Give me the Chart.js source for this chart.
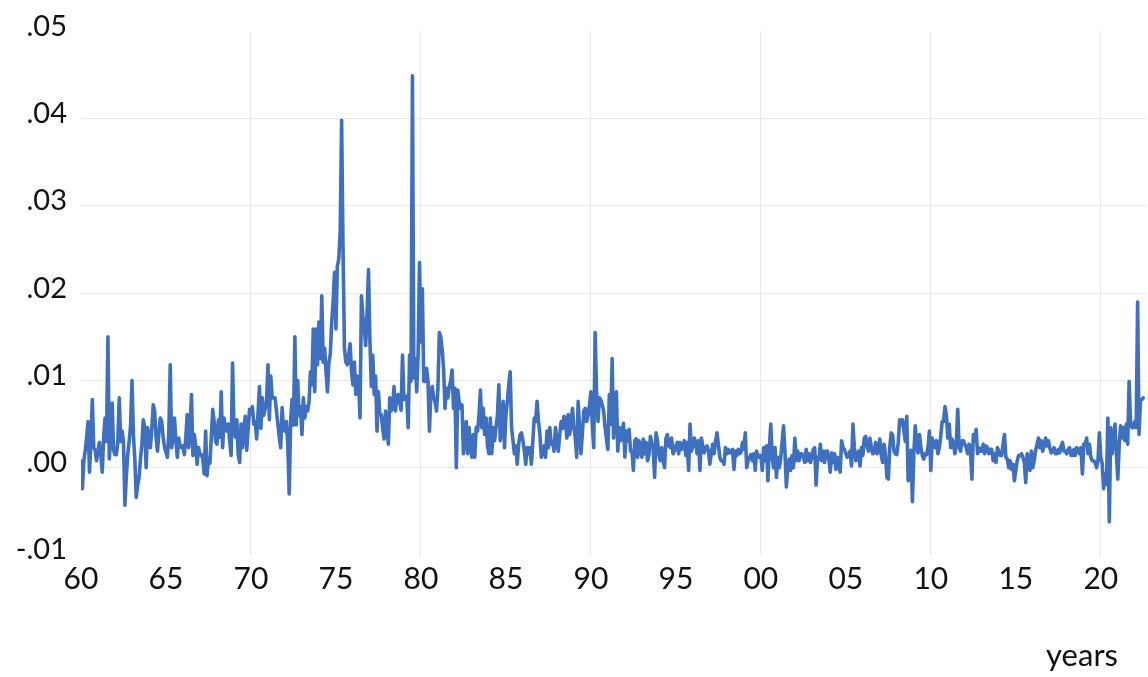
<!DOCTYPE html>
<html>
<head>
<meta charset="utf-8">
<script src="https://cdn.jsdelivr.net/npm/chart.js@4.4.0/dist/chart.umd.min.js"></script>
<style>
    html, body { margin: 0; padding: 0; background: #fff; }
</style>
</head>
<body>
<canvas id="chart" width="1148" height="677"></canvas>
<script>
// Monthly values in thousandths (per mille), starting January 1960
const v1960s = [
    0.8, -2.4, 0.8, 2.0, 3.5, 5.3, -0.5, 3.0, 7.8, 2.3, 2.0, 0.8,
    2.0, 2.9, 1.5, -0.5, 3.5, 5.7, 3.0, 15.0, 1.0, 4.0, 7.4, 2.0,
    1.5, 1.5, 3.0, 8.0, 3.0, 4.2, 3.0, -4.3, -1.0, 1.5, 3.0, 4.8,
    10.0, 3.8, 1.0, -3.4, -2.0, -1.1, 1.0, 2.7, 5.5, 4.6, 0.0, 4.6,
    3.5, 2.3, 4.5, 7.2, 6.5, 3.5, 1.9, 4.0, 5.7, 5.3, 3.5, 2.3,
    1.8, 1.2, 4.0, 11.8, 2.3, 3.5, 5.7, 3.1, 1.2, 3.4, 2.5, 2.3,
    2.5, 1.5, 3.5, 6.1, 2.3, 4.5, 8.4, 1.4, 3.8, 2.5, 0.4, 2.3,
    1.5, 1.5, 1.0, -0.7, 4.2, -0.9, 1.0, 0.5, 3.5, 6.7, 5.3, 3.0,
    2.7, 5.5, 3.5, 8.7, 2.3, 5.7, 4.5, 4.2, 5.0, 3.0, 1.4, 12.0,
    4.2, 3.5, 5.5, 1.5, 0.6, 5.0, 2.3, 4.5, 5.9, 2.0, 4.5, 6.7
];
const v1970s = [
    6.2, 7.0, 5.0, 5.3, 3.3, 6.3, 9.3, 4.5, 8.0, 6.0, 6.7, 7.6,
    11.8, 5.5, 10.5, 8.0, 8.0, 8.0, 6.5, 5.0, 3.5, 2.3, 6.9, 4.5,
    4.2, 5.3, 2.7, -3.0, 5.3, 7.8, 4.9, 15.0, 4.9, 10.0, 6.0, 7.0,
    3.8, 8.0, 5.7, 7.0, 6.5, 7.5, 11.0, 9.5, 15.9, 8.7, 15.9, 11.8,
    16.7, 12.5, 19.7, 12.1, 13.7, 11.0, 8.7, 12.0, 13.0, 16.7, 19.0, 22.4,
    15.9, 23.1, 23.9, 27.0, 39.8, 25.0, 13.7, 12.1, 11.8, 13.0, 14.2, 11.0,
    9.5, 12.1, 8.4, 10.5, 9.9, 5.7, 19.7, 17.4, 16.0, 14.0, 17.8, 22.7,
    14.4, 9.3, 12.9, 8.4, 10.5, 4.2, 8.7, 6.1, 6.1, 4.5, 3.3, 6.5,
    4.5, 2.7, 8.0, 6.5, 7.0, 9.3, 6.5, 8.0, 8.4, 7.5, 6.6, 12.9,
    7.8, 8.0, 8.2, 4.6, 12.9, 9.9, 44.9, 10.3, 12.5, 8.7, 12.9, 23.5
];
const v1980s = [
    14.4, 20.5, 9.9, 9.9, 11.4, 9.9, 4.2, 8.7, 9.3, 8.0, 7.5, 6.5,
    9.1, 15.5, 15.0, 13.5, 11.4, 6.8, 9.1, 8.0, 9.3, 9.9, 11.2, 6.8,
    9.1, 0.0, 8.9, 7.6, 6.8, 7.2, 1.6, 3.1, 5.3, 1.6, 4.6, 2.5,
    1.2, 3.8, 1.2, 4.6, 4.2, 6.0, 8.9, 4.6, 6.8, 3.8, 5.7, 2.5,
    1.6, 5.7, 1.6, 4.6, 3.1, 4.6, 6.0, 9.5, 3.1, 4.6, 7.6, 2.3,
    6.0, 7.6, 9.5, 11.0, 4.6, 3.1, 1.6, 2.5, 0.4, 2.7, 3.8, 4.0,
    3.1, 2.0, 0.4, 2.3, 1.6, 2.3, 0.4, 3.0, 5.7, 5.3, 7.6, 5.3,
    3.8, 1.2, 1.9, 2.5, 1.2, 4.2, 2.3, 4.6, 2.7, 3.0, 1.9, 4.6,
    3.1, 1.9, 3.8, 5.3, 4.5, 5.9, 5.7, 3.4, 6.1, 3.8, 5.0, 6.8,
    4.6, 3.4, 1.2, 7.6, 4.6, 1.6, 4.0, 6.5, 6.8, 5.3, 6.0, 7.2
];
const v1990s = [
    8.7, 5.0, 2.3, 15.5, 8.7, 5.3, 8.0, 7.8, 7.2, 6.5, 4.6, 3.3,
    2.1, 8.4, 5.0, 12.5, 3.4, 6.5, 8.7, 1.9, 4.6, 3.1, 4.0, 5.1,
    1.2, 4.2, 3.1, 4.4, 1.9, 1.9, -0.3, 3.1, 3.3, 1.2, 3.1, 2.0,
    1.2, 3.3, 1.6, 2.9, 0.8, 1.5, 3.6, 2.9, 2.1, -1.1, 4.0, 3.1,
    1.5, 0.8, 2.3, 0.8, 0.0, 3.4, 3.8, 2.5, 2.3, 3.4, 1.6, 1.9,
    2.5, 2.9, 1.6, 2.9, 2.1, 2.5, 3.1, 1.4, 2.9, -0.3, 5.0, 1.9,
    2.5, 3.4, 2.9, 1.6, 3.1, -0.3, 3.4, 2.5, 1.7, 2.3, 2.5, 1.9,
    0.4, 1.7, 2.7, 1.6, 3.0, 4.0, 2.7, 1.2, 0.8, 0.8, 0.4, 2.3,
    1.6, 2.1, 1.7, 1.9, 2.1, -0.2, 1.9, 1.4, 2.1, 1.6, 1.8, 2.9,
    2.1, 4.0, 0.0, 0.8, 1.2, 1.5, 0.8, 1.6, -0.3, 1.9, 1.2, 1.4
];
const v2000s = [
    1.4, -0.3, 2.3, 0.8, 2.5, -1.5, 2.3, 5.0, 1.2, 0.0, 2.3, -1.1,
    1.2, 0.0, 1.0, 2.9, 4.8, 1.9, -2.2, 0.0, 1.0, -0.3, 1.4, 0.0,
    3.4, 0.8, 1.9, 0.8, 1.6, 1.6, 1.2, 0.6, 2.1, 0.8, 1.6, 0.6,
    1.2, 2.1, 2.3, -2.0, 1.2, 1.0, 2.7, 0.8, 1.9, 0.6, 1.9, 1.9,
    1.0, -0.5, 1.7, 0.6, 1.6, -0.2, 1.2, 0.5, -0.5, 3.1, 2.3, 2.1,
    1.6, 1.2, 1.5, 1.9, 0.2, 5.0, 2.3, 0.8, 1.5, 1.9, 0.2, 2.3,
    1.4, 3.4, 3.6, 2.5, 1.9, 3.4, 2.3, 1.6, 1.8, 2.9, 1.6, 2.0,
    3.3, 1.4, 0.6, 2.7, 1.5, -1.1, -1.3, 2.3, 4.0, 3.8, 1.9, 1.6,
    1.5, 2.9, 5.5, 5.0, 5.5, 4.2, 3.0, 5.9, -1.5, 1.6, 2.0, -3.9,
    1.6, 4.8, 2.7, 1.7, 3.8, 2.3, 1.4, 1.0, 1.6, 1.5, 2.3, 4.2
];
const v2010s = [
    -0.3, 3.4, 2.5, 2.3, 3.1, 1.6, 2.3, 3.6, 5.3, 5.3, 7.0, 6.0,
    3.4, 5.0, 2.3, 3.3, 2.7, 1.6, 2.7, 6.7, 2.3, 1.9, 3.1, 3.1,
    2.7, 2.3, 1.6, 2.7, 2.0, -1.3, 3.8, 3.1, 4.4, 1.6, 2.3, 1.9,
    1.9, 2.7, 1.6, 2.5, 2.3, 1.6, 2.1, 2.1, 0.8, 1.6, 0.6, 2.3,
    1.9, 1.4, 1.4, 2.7, 3.8, 1.2, 1.0, 0.0, 0.8, -0.2, 0.4, -1.5,
    -0.3, 0.8, 1.4, 1.4, 1.6, 1.2, 0.6, -1.7, 1.6, 1.0, -0.3, 1.9,
    0.0, 0.8, 2.0, 2.7, 3.4, 2.3, 3.1, 1.9, 2.5, 3.4, 2.5, 3.1,
    2.3, 1.7, 1.9, 2.3, 1.6, 1.6, 2.1, 1.7, 2.5, 2.9, 1.9, 1.9,
    1.6, 2.1, 2.3, 1.4, 1.4, 2.1, 1.4, 2.3, 2.1, 1.6, 2.3, -0.7,
    2.7, 2.7, 3.4, 1.6, 2.7, 1.2, 0.8, 0.8, 0.6, 0.0, 0.8, 4.0
];
const v2020s = [
    1.2, 0.5, -2.4, -0.7, -1.9, 5.7, -6.2, 4.6, 1.6, 3.0, 5.0, 1.6,
    -1.3, 2.5, 4.8, 3.4, 4.6, 3.1, 5.0, 2.7, 9.9, 5.3, 4.6, 4.6,
    5.3, 4.6, 19.0, 3.8, 7.8, 7.8, 8.0
];

const xTickYears = [1960, 1965, 1970, 1975, 1980, 1985, 1990, 1995, 2000, 2005, 2010, 2015, 2020];
const xTickLabels = ['60', '65', '70', '75', '80', '85', '90', '95', '00', '05', '10', '15', '20'];
const yTickValues = [-0.01, 0, 0.01, 0.02, 0.03, 0.04, 0.05];
const yTickLabels = ['-.01', '.00', '.01', '.02', '.03', '.04', '.05'];

const monthly = [].concat(v1960s, v1970s, v1980s, v1990s, v2000s, v2010s, v2020s);
const points = monthly.map((v, i) => ({ x: 1960 + i / 12, y: v / 1000 }));

const GRID = '#e8e8e8';
const TEXT = '#111';

// "years" caption under the x axis, right side
const yearsLabel = {
    id: 'yearsLabel',
    afterDraw(chart) {
        const { ctx, chartArea } = chart;
        ctx.save();
        ctx.font = '31px Lato';
        ctx.fillStyle = TEXT;
        ctx.textAlign = 'right';
        ctx.textBaseline = 'middle';
        ctx.fillText('years', chartArea.right - 28, 656);
        ctx.restore();
    }
};

new Chart(document.getElementById('chart'), {
    type: 'line',
    data: {
        datasets: [{
            data: points,
            borderColor: '#3f6fbf',
            borderWidth: 3.6,
            borderJoinStyle: 'round',
            borderCapStyle: 'round',
            pointRadius: 0,
            tension: 0,
            fill: false
        }]
    },
    options: {
        responsive: false,
        animation: false,
        devicePixelRatio: 1,
        layout: { padding: { left: 0, right: 2, top: 26, bottom: 0 } },
        plugins: {
            legend: { display: false },
            tooltip: { enabled: false }
        },
        scales: {
            x: {
                type: 'linear',
                min: 1960,
                max: 2022.66,
                border: { display: false },
                afterBuildTicks: (scale) => {
                    scale.ticks = xTickYears.map(v => ({ value: v }));
                },
                afterFit: (scale) => { scale.height = 122; },
                grid: {
                    drawTicks: false,
                    lineWidth: 1,
                    color: (c) => {
                        const v = c.tick ? c.tick.value : null;
                        return (v !== null && v > 1960 && v % 10 === 0) ? GRID : 'rgba(0,0,0,0)';
                    }
                },
                ticks: {
                    padding: 6,
                    color: TEXT,
                    font: { family: 'Lato', size: 30 },
                    maxRotation: 0,
                    autoSkip: false,
                    callback: (value) => xTickLabels[xTickYears.indexOf(value)]
                }
            },
            y: {
                min: -0.01,
                max: 0.05,
                border: { display: false },
                afterBuildTicks: (scale) => {
                    scale.ticks = yTickValues.map(v => ({ value: v }));
                },
                afterFit: (scale) => { scale.width = 81; },
                grid: {
                    drawTicks: false,
                    lineWidth: 1,
                    color: (c) => {
                        const v = c.tick ? c.tick.value : null;
                        return (v !== null && v > -0.005 && v < 0.045) ? GRID : 'rgba(0,0,0,0)';
                    }
                },
                ticks: {
                    padding: 14,
                    labelOffset: -5,
                    color: TEXT,
                    font: { family: 'Lato', size: 29 },
                    callback: (value) => {
                        const idx = yTickValues.findIndex(t => Math.abs(t - value) < 1e-9);
                        return idx >= 0 ? yTickLabels[idx] : '';
                    }
                }
            }
        }
    },
    plugins: [yearsLabel]
});
</script>
</body>
</html>
